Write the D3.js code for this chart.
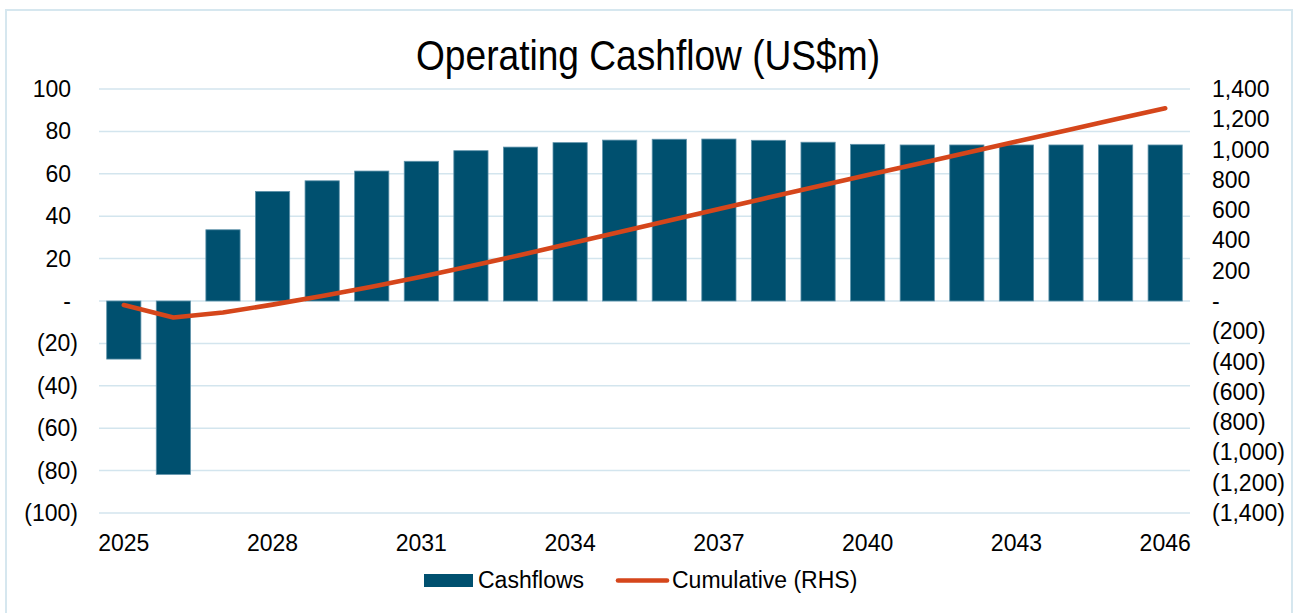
<!DOCTYPE html>
<html>
<head>
<meta charset="utf-8">
<script src="https://cdn.jsdelivr.net/npm/d3@7"></script>
<style>
  body { margin: 0; background: #fff; }
  text { font-family: "Liberation Sans", Arial, sans-serif; fill: #000; }
</style>
</head>
<body>
<div id="chart"></div>
<script>
// Operating cashflow chart

var width = 1295, height = 613;

// data
var years = [2025, 2026, 2027, 2028, 2029, 2030, 2031, 2032, 2033, 2034, 2035,
             2036, 2037, 2038, 2039, 2040, 2041, 2042, 2043, 2044, 2045, 2046];
var cashflows = [-27.4, -81.8, 33.6, 51.7, 56.7, 61.3, 65.9, 70.9, 72.6, 74.7, 75.9,
                 76.3, 76.4, 75.8, 74.9, 73.9, 73.6, 73.6, 73.6, 73.6, 73.6, 73.6];
var cumulative = [-27, -109, -76, -24, 33, 94, 160, 231, 304, 379, 455,
                  531, 607, 683, 758, 832, 905, 979, 1053, 1126, 1200, 1273];
var leftTicks = [-100, -80, -60, -40, -20, 0, 20, 40, 60, 80, 100];
var rightTicks = [-1400, -1200, -1000, -800, -600, -400, -200, 0, 200, 400, 600, 800, 1000, 1200, 1400];
var yearLabels = [2025, 2028, 2031, 2034, 2037, 2040, 2043, 2046];

var plot = { left: 99, right: 1190, top: 89, bottom: 513 };

var svg = d3.select("#chart").append("svg")
    .attr("width", width)
    .attr("height", height);

// outer frame
svg.append("rect")
    .attr("x", 6).attr("y", 10)
    .attr("width", 1286).attr("height", 640)
    .attr("fill", "none")
    .attr("stroke", "#d6e7ef")
    .attr("stroke-width", 2);

var x = d3.scaleBand()
    .domain(years)
    .range([plot.left, plot.right])
    .paddingInner(0.31)
    .paddingOuter(0.155);

var yLeft = d3.scaleLinear().domain([-100, 100]).range([plot.bottom, plot.top]);
var yRight = d3.scaleLinear().domain([-1400, 1400]).range([plot.bottom, plot.top]);

// gridlines
svg.append("g").selectAll("line")
    .data(leftTicks)
    .enter().append("line")
    .attr("x1", plot.left).attr("x2", plot.right)
    .attr("y1", d => yLeft(d)).attr("y2", d => yLeft(d))
    .attr("stroke", "#d3e5ee")
    .attr("stroke-width", 1.5);

// bars
svg.append("g").selectAll("rect")
    .data(years)
    .enter().append("rect")
    .attr("x", d => x(d))
    .attr("width", x.bandwidth())
    .attr("y", (d, i) => yLeft(Math.max(0, cashflows[i])))
    .attr("height", (d, i) => Math.abs(yLeft(cashflows[i]) - yLeft(0)))
    .attr("fill", "#00506f")
    .attr("stroke", "#5f93ab")
    .attr("stroke-width", 0.8);

// cumulative line
var line = d3.line()
    .x((d, i) => x(years[i]) + x.bandwidth() / 2)
    .y(d => yRight(d));

svg.append("path")
    .datum(cumulative)
    .attr("d", line)
    .attr("fill", "none")
    .attr("stroke", "#d5461b")
    .attr("stroke-width", 4.6)
    .attr("stroke-linecap", "round")
    .attr("stroke-linejoin", "round");

// axis labels in excel accounting style
function accounting(v) {
    if (v === 0) return "-";
    var s = d3.format(",")(Math.abs(v));
    return v < 0 ? "(" + s + ")" : s;
}

svg.append("g").selectAll("text")
    .data(leftTicks)
    .enter().append("text")
    .attr("x", d => d < 0 ? 78 : 71)
    .attr("y", d => yLeft(d))
    .attr("dy", "0.35em")
    .attr("text-anchor", "end")
    .style("font-size", "23px")
    .text(accounting);

// right axis labels
svg.append("g").selectAll("text")
    .data(rightTicks)
    .enter().append("text")
    .attr("x", 1212)
    .attr("y", d => yRight(d))
    .attr("dy", "0.35em")
    .attr("text-anchor", "start")
    .style("font-size", "23px")
    .text(accounting);

// year labels
svg.append("g").selectAll("text")
    .data(yearLabels)
    .enter().append("text")
    .attr("x", d => x(d) + x.bandwidth() / 2)
    .attr("y", 551)
    .attr("text-anchor", "middle")
    .style("font-size", "23px")
    .text(d => d);

// title
svg.append("text")
    .attr("x", 648)
    .attr("y", 70)
    .attr("text-anchor", "middle")
    .attr("textLength", 464)
    .attr("lengthAdjust", "spacingAndGlyphs")
    .style("font-size", "42px")
    .text("Operating Cashflow (US$m)");

// legend
var legend = svg.append("g");
legend.append("rect")
    .attr("x", 424).attr("y", 574)
    .attr("width", 49).attr("height", 13)
    .attr("fill", "#00506f");
legend.append("text")
    .attr("x", 478).attr("y", 588)
    .style("font-size", "23px")
    .text("Cashflows");
legend.append("line")
    .attr("x1", 618).attr("x2", 667)
    .attr("y1", 580.5).attr("y2", 580.5)
    .attr("stroke", "#d5461b")
    .attr("stroke-width", 4.6)
    .attr("stroke-linecap", "round");
legend.append("text")
    .attr("x", 672).attr("y", 588)
    .style("font-size", "23px")
    .text("Cumulative (RHS)");
</script>
</body>
</html>
